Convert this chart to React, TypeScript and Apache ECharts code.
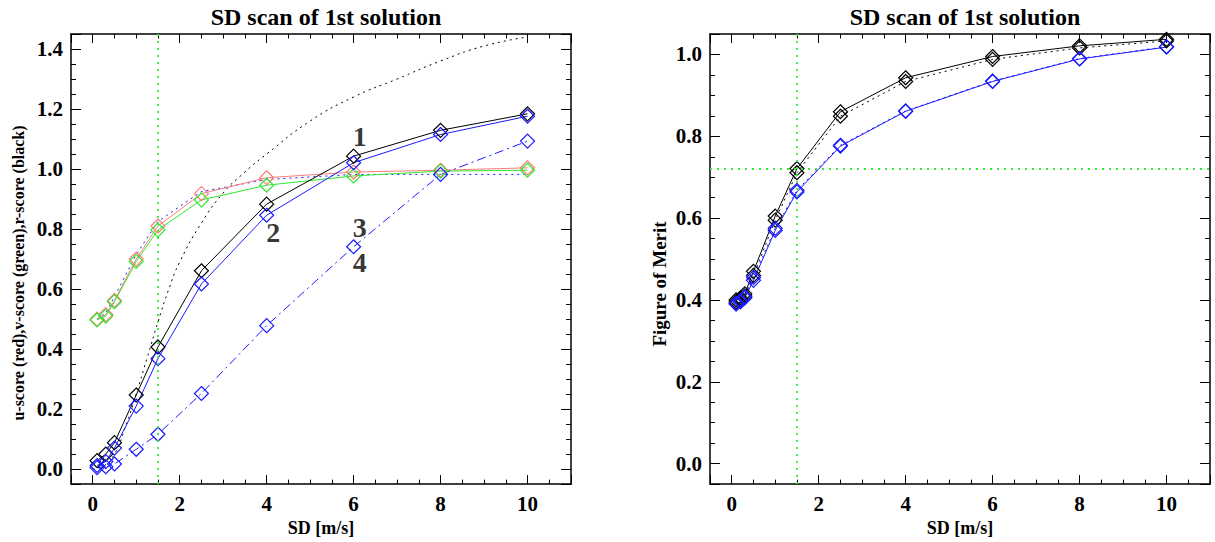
import React, { useEffect, useRef } from "react";
import * as echarts from "echarts";

// ---------- data ----------
const sdLeft = [0.1, 0.3, 0.5, 1, 1.5, 2.5, 4, 6, 8, 10];
const uScore = [0.5, 0.515, 0.562, 0.7, 0.81, 0.918, 0.971, 0.99, 0.996, 1.004];
const vScore = [0.497, 0.51, 0.558, 0.692, 0.797, 0.897, 0.946, 0.977, 0.993, 0.996];
const blueDotted = [0.5, 0.52, 0.575, 0.715, 0.825, 0.925, 0.965, 0.982, 0.982, 0.982];
const rScore1 = [0.028, 0.05, 0.088, 0.247, 0.407, 0.661, 0.883, 1.043, 1.129, 1.184];
const rScore2 = [0.012, 0.025, 0.07, 0.21, 0.368, 0.617, 0.846, 1.021, 1.115, 1.176];
const rScore4 = [0.005, 0.008, 0.017, 0.066, 0.116, 0.252, 0.478, 0.741, 0.982, 1.093];
const sdModel = [0, 0.25, 0.5, 0.75, 1, 1.25, 1.5, 1.75, 2, 2.5, 3, 3.5, 4, 5, 6, 7, 8, 9, 10];
const modelCurve = [0, 0.01, 0.05, 0.14, 0.25, 0.37, 0.49, 0.6, 0.69, 0.82, 0.92, 0.99, 1.05, 1.16, 1.24, 1.3, 1.36, 1.41, 1.44];
const curveLabels = [
  [6.14, 1.109, "1"],
  [4.15, 0.789, "2"],
  [6.14, 0.805, "3"],
  [6.14, 0.69, "4"],
];

const sdRight = [0.1, 0.2, 0.3, 0.5, 1, 1.5, 2.5, 4, 6, 8, 10];
const fomBlackSolid = [0.4, 0.405, 0.415, 0.47, 0.605, 0.721, 0.86, 0.943, 0.995, 1.021, 1.037];
const fomBlackDotted = [0.395, 0.4, 0.41, 0.46, 0.595, 0.711, 0.849, 0.934, 0.988, 1.016, 1.033];
const fomBlueSolid = [0.39, 0.395, 0.405, 0.448, 0.57, 0.664, 0.776, 0.861, 0.934, 0.989, 1.018];
const fomBlueDotted = [0.392, 0.398, 0.408, 0.455, 0.575, 0.668, 0.778, 0.862, 0.935, 0.99, 1.019];

const sdMark = 1.5;
const fomMark = 0.722;

const titleText = "SD scan of 1st solution";
const xName = "SD [m/s]";
const yNameLeft = "u-score (red),v-score (green),r-score (black)";
const yNameRight = "Figure of Merit";

// ---------- styling ----------
const FONT = "Liberation Serif";
const RED = "#ff7a7a";
const GREEN = "#2ee82e";
const BLUE = "#1a1aff";
const BLACK = "#000000";
const MARKGREEN = "#33ee33";

const zip = (xs: number[], ys: number[]) => xs.map((x, i) => [x, ys[i]]);

function xAxes(gridIndex: number) {
  const common = {
    gridIndex,
    type: "value",
    min: -0.5,
    max: 11,
    splitLine: { show: false },
  };
  const fmt = (v: number) => {
    const r = Math.round(v);
    if (Math.abs(v - r) < 1e-6 && r % 2 === 0 && r >= 0 && r <= 10) return String(r);
    return "";
  };
  return [
    {
      ...common,
      position: "bottom",
      minInterval: 2,
      maxInterval: 2,
      axisLine: { show: true, onZero: false, lineStyle: { color: BLACK, width: 1.5 } },
      axisTick: { show: true, inside: true, length: 9, lineStyle: { color: BLACK, width: 1 } },
      axisLabel: {
        show: true,
        formatter: fmt,
        margin: 9,
        color: BLACK,
        fontFamily: FONT,
        fontWeight: "bold",
        fontSize: 21,
      },
      name: xName,
      nameLocation: "middle",
      nameGap: 28,
      nameTextStyle: { fontFamily: FONT, fontWeight: "bold", fontSize: 18, color: BLACK },
    },
    {
      ...common,
      position: "bottom",
      interval: 0.5,
      axisLine: { show: false, onZero: false },
      axisTick: { show: true, inside: true, length: 4.5, lineStyle: { color: BLACK, width: 1 } },
      axisLabel: { show: false },
    },
    {
      ...common,
      position: "top",
      minInterval: 2,
      maxInterval: 2,
      axisLine: { show: true, onZero: false, lineStyle: { color: BLACK, width: 1.5 } },
      axisTick: { show: true, inside: true, length: 9, lineStyle: { color: BLACK, width: 1 } },
      axisLabel: { show: false },
    },
    {
      ...common,
      position: "top",
      interval: 0.5,
      axisLine: { show: false, onZero: false },
      axisTick: { show: true, inside: true, length: 4.5, lineStyle: { color: BLACK, width: 1 } },
      axisLabel: { show: false },
    },
  ];
}

function yAxes(gridIndex: number, max: number) {
  const common = {
    gridIndex,
    type: "value",
    min: -0.05,
    max,
    splitLine: { show: false },
  };
  const fmt = (v: number) => {
    const k = v * 5;
    if (Math.abs(k - Math.round(k)) < 1e-6 && v > -1e-6 && v < max - 0.04) return v.toFixed(1);
    return "";
  };
  return [
    {
      ...common,
      position: "left",
      minInterval: 0.2,
      maxInterval: 0.2,
      axisLine: { show: true, onZero: false, lineStyle: { color: BLACK, width: 1.5 } },
      axisTick: { show: true, inside: true, length: 10, lineStyle: { color: BLACK, width: 1 } },
      axisLabel: {
        show: true,
        formatter: fmt,
        margin: 8,
        color: BLACK,
        fontFamily: FONT,
        fontWeight: "bold",
        fontSize: 21,
      },
    },
    {
      ...common,
      position: "left",
      interval: 0.05,
      axisLine: { show: false, onZero: false },
      axisTick: { show: true, inside: true, length: 5, lineStyle: { color: BLACK, width: 1 } },
      axisLabel: { show: false },
    },
    {
      ...common,
      position: "right",
      minInterval: 0.2,
      maxInterval: 0.2,
      axisLine: { show: true, onZero: false, lineStyle: { color: BLACK, width: 1.5 } },
      axisTick: { show: true, inside: true, length: 10, lineStyle: { color: BLACK, width: 1 } },
      axisLabel: { show: false },
    },
    {
      ...common,
      position: "right",
      interval: 0.05,
      axisLine: { show: false, onZero: false },
      axisTick: { show: true, inside: true, length: 5, lineStyle: { color: BLACK, width: 1 } },
      axisLabel: { show: false },
    },
  ];
}

function lineSeries(
  name: string,
  data: number[][],
  color: string,
  type: any,
  withMarkers: boolean,
  axisBase: number,
  extra: any = {}
) {
  return {
    name,
    type: "line",
    xAxisIndex: axisBase,
    yAxisIndex: axisBase,
    data,
    symbol: withMarkers ? "diamond" : "none",
    symbolSize: 14,
    showSymbol: withMarkers,
    lineStyle: { color, width: 1, type },
    itemStyle: { color: "none", borderColor: color, borderWidth: 1.2 },
    z: 3,
    silent: true,
    ...extra,
  };
}

const markLineStyle = {
  silent: true,
  symbol: ["none", "none"],
  label: { show: false },
  lineStyle: { color: MARKGREEN, width: 1.8, type: [2, 5] },
};

export default function App() {
  const ref = useRef<HTMLDivElement>(null);

  useEffect(() => {
    if (!ref.current) return;
    const chart = echarts.init(ref.current, undefined, { renderer: "svg" });
    const titleStyle = { fontFamily: FONT, fontWeight: "bold", fontSize: 24, color: BLACK };
    const option: any = {
      animation: false,
      backgroundColor: "#ffffff",
      title: [
        { text: titleText, left: 321, top: 0, textAlign: "center", textStyle: titleStyle },
        { text: titleText, left: 960, top: 0, textAlign: "center", textStyle: titleStyle },
      ],
      grid: [
        { left: 71, top: 34, width: 500, height: 453 },
        { left: 710, top: 34, width: 500, height: 453 },
      ],
      xAxis: [...xAxes(0), ...xAxes(1)],
      yAxis: [...yAxes(0, 1.45), ...yAxes(1, 1.05)],
      graphic: [
        {
          type: "text",
          x: 18,
          y: 273,
          rotation: Math.PI / 2,
          style: {
            text: yNameLeft,
            fontFamily: FONT,
            fontWeight: "bold",
            fontSize: 16,
            fill: BLACK,
            textAlign: "center",
            textVerticalAlign: "middle",
          },
        },
        {
          type: "text",
          x: 659,
          y: 284,
          rotation: Math.PI / 2,
          style: {
            text: yNameRight,
            fontFamily: FONT,
            fontWeight: "bold",
            fontSize: 19,
            fill: BLACK,
            textAlign: "center",
            textVerticalAlign: "middle",
          },
        },
      ],
      series: [
        // left plot
        lineSeries("model", zip(sdModel, modelCurve), BLACK, [2, 4], false, 0, { smooth: true }),
        lineSeries("blue dotted", zip(sdLeft, blueDotted), BLUE, [2, 4], false, 0),
        lineSeries("u-score", zip(sdLeft, uScore), RED, "solid", true, 0),
        lineSeries("v-score", zip(sdLeft, vScore), GREEN, "solid", true, 0, {
          markLine: { ...markLineStyle, data: [{ xAxis: sdMark }] },
        }),
        lineSeries("r-score 1", zip(sdLeft, rScore1), BLACK, "solid", true, 0),
        lineSeries("r-score 2", zip(sdLeft, rScore2), BLUE, "solid", true, 0),
        lineSeries("r-score 4", zip(sdLeft, rScore4), BLUE, [9, 4, 2, 4], true, 0),
        {
          type: "scatter",
          xAxisIndex: 0,
          yAxisIndex: 0,
          data: curveLabels,
          symbolSize: 0,
          silent: true,
          label: {
            show: true,
            position: "inside",
            formatter: (p: any) => p.value[2],
            fontFamily: FONT,
            fontWeight: "bold",
            fontSize: 28,
            color: BLACK,
          },
        },
        // right plot
        lineSeries("fom black dotted", zip(sdRight, fomBlackDotted), BLACK, [2, 4], true, 4),
        lineSeries("fom black", zip(sdRight, fomBlackSolid), BLACK, "solid", true, 4),
        lineSeries("fom blue dotted", zip(sdRight, fomBlueDotted), BLUE, [2, 4], true, 4),
        lineSeries("fom blue", zip(sdRight, fomBlueSolid), BLUE, "solid", true, 4, {
          markLine: { ...markLineStyle, data: [{ xAxis: sdMark }, { yAxis: fomMark }] },
        }),
      ],
    };
    chart.setOption(option);
    return () => chart.dispose();
  }, []);

  return (
    <div
      ref={ref}
      style={{ position: "fixed", left: 0, top: 0, width: 1215, height: 542, background: "#fff" }}
    />
  );
}
